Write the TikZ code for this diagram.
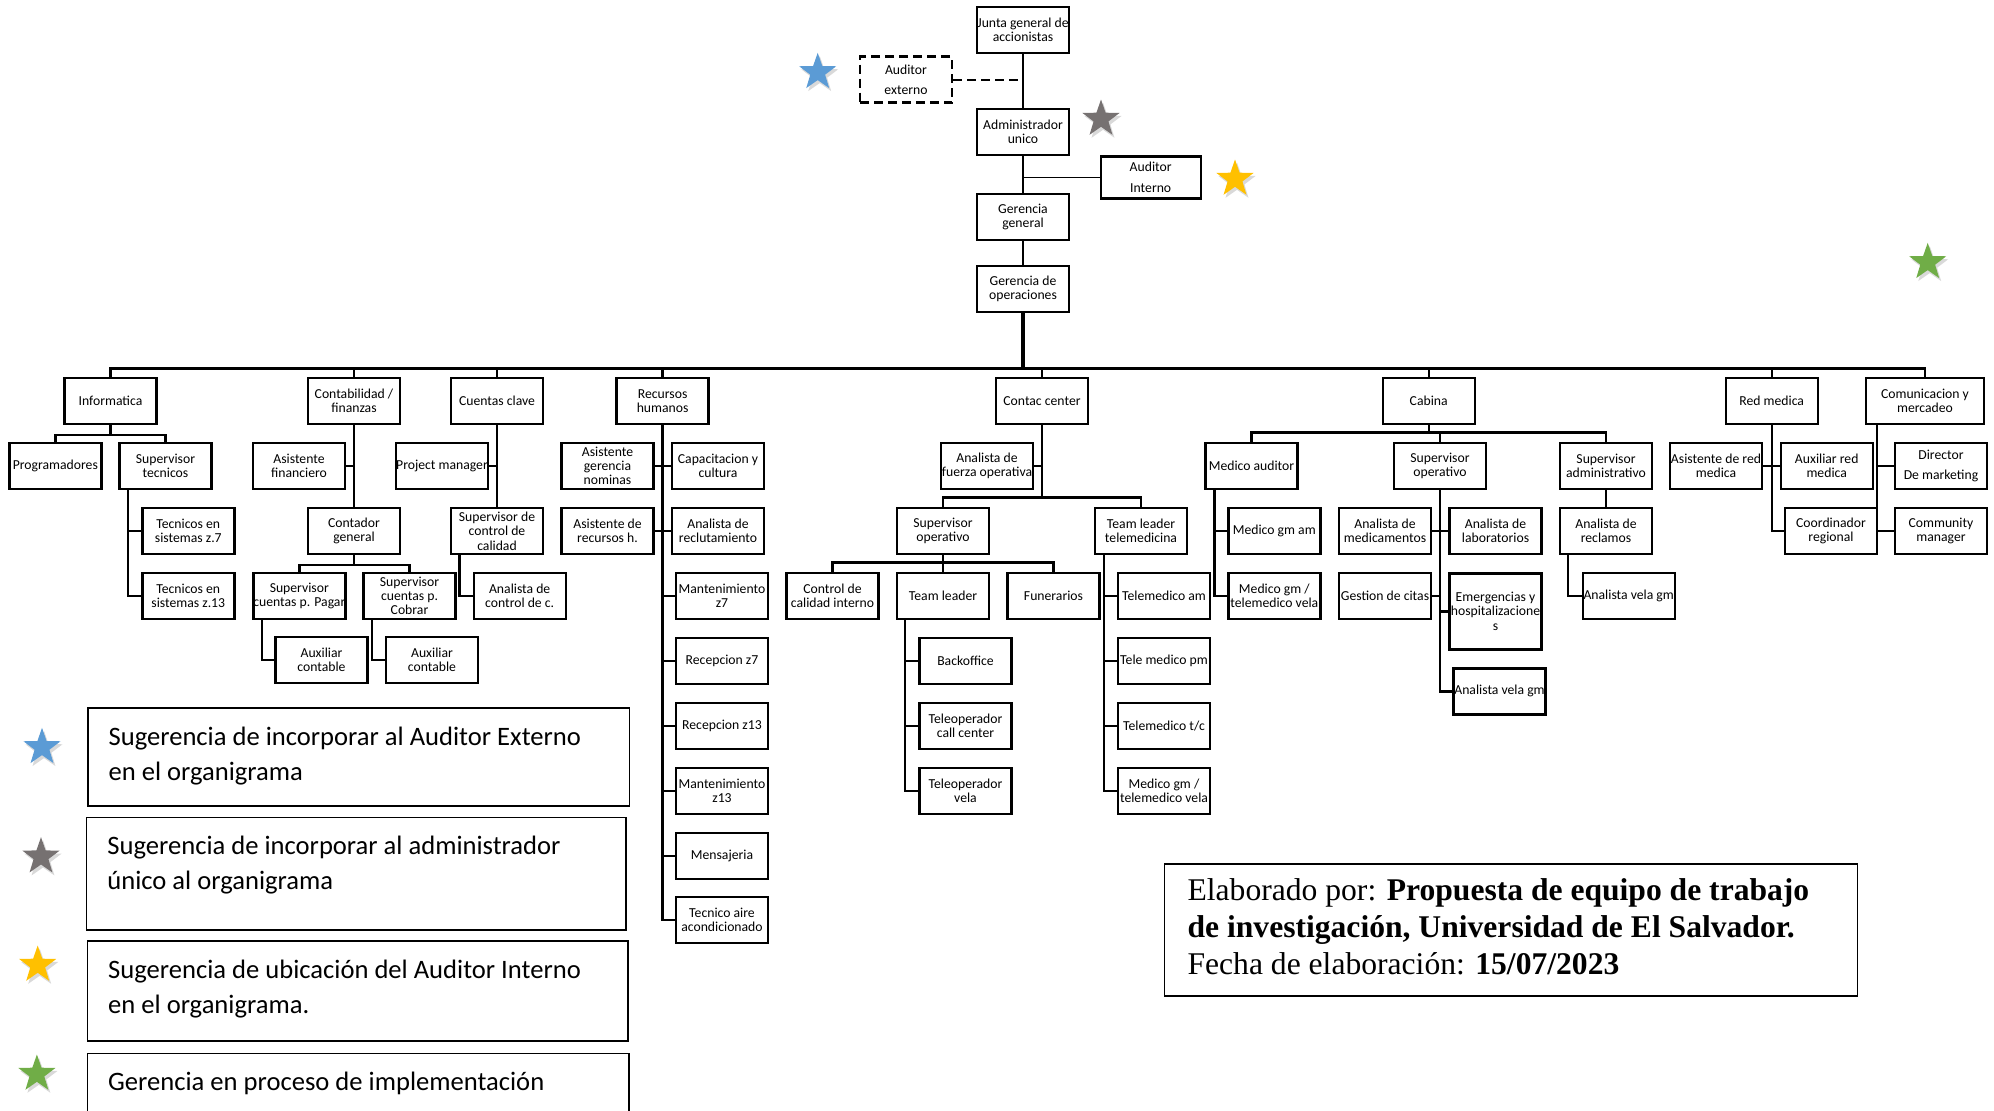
\documentclass[tikz,border=0pt]{standalone}
\usepackage{fontspec}
\setmainfont{Carlito}
\newfontfamily\serifa{Liberation Serif}
\usetikzlibrary{shapes.geometric,shadows}
\definecolor{azul}{RGB}{91,155,213}
\definecolor{gris}{RGB}{118,113,113}
\definecolor{amarillo}{RGB}{255,192,0}
\definecolor{verde}{RGB}{112,173,71}
\begin{document}
\begin{tikzpicture}[x=0.5pt,y=-0.5pt,
	cargo/.style={draw,line width=1.2pt,minimum width=46pt,minimum height=23pt,inner sep=0pt,align=center,font=\fontsize{6.85}{7.15}\selectfont},
	linea/.style={line width=1.2pt,line cap=rect},
	estrella/.style={star,star points=5,star point ratio=2.5,minimum size=19.5pt,inner sep=0pt,drop shadow={opacity=0.3,shadow xshift=1pt,shadow yshift=-1.5pt}},
	leyenda/.style={draw,line width=0.8pt,anchor=north west,inner xsep=10.4pt,inner ysep=9.4pt,font=\fontsize{13.3}{17.5}\selectfont}]
		\useasboundingbox (0,0) rectangle (1994,1110);
		\node[cargo] (junta) at (1023,30) {Junta general de\\accionistas};
		\node[cargo,dash pattern=on 4.5pt off 2.5pt] (audext) at (906,79.5) {Auditor\\[3pt]externo};
		\node[cargo] (admin) at (1023,132) {Administrador\\unico};
		\node[cargo,minimum width=50pt,minimum height=21pt] (audint) at (1150.7,177.5) {Auditor\\[3.5pt]Interno};
		\node[cargo] (gg) at (1023,217) {Gerencia\\general};
		\node[cargo] (gop) at (1023,288.7) {Gerencia de\\operaciones};
		\draw[line width=1pt] (junta) -- (admin) (admin) -- (gg) (gg) -- (gop);
		\draw[line width=1pt,dash pattern=on 4.5pt off 2.5pt] (audext.east) -- (audext.east -| junta.south);
		\draw[line width=0.7pt] (audint.west) -- (audint.west -| admin.south);
		\coordinate (bus) at (0,368.5);
		\draw[line width=1.8pt] (gop.south) -- (gop.south |- bus);
		\node[cargo] (info) at (110.5,401) {Informatica};
		\node[cargo] (conta) at (354,401) {Contabilidad /\\finanzas};
		\node[cargo] (ctas) at (497,401) {Cuentas clave};
		\node[cargo] (rrhh) at (662.6,401) {Recursos\\humanos};
		\node[cargo] (cc) at (1042,401) {Contac center};
		\node[cargo] (cabina) at (1428.7,401) {Cabina};
		\node[cargo] (red) at (1771.7,401) {Red medica};
		\node[cargo,minimum width=59pt] (comu) at (1925,401) {Comunicacion y\\mercadeo};
		\draw[linea,line width=1.4pt] (info.north |- bus) -- (comu.north |- bus);
		\foreach \n in {info,conta,ctas,rrhh,cc,cabina,red,comu}
			\draw[linea] (\n.north) -- (\n.north |- bus);
		\node[cargo] (prog) at (55.3,466) {Programadores};
		\node[cargo] (suptec) at (165.5,466) {Supervisor\\tecnicos};
		\node[cargo] (tec7) at (188.3,531) {Tecnicos en\\sistemas z.7};
		\node[cargo] (tec13) at (188.3,596) {Tecnicos en\\sistemas z.13};
		\draw[linea] (info.south) -- ++(0,9.5) coordinate (infbus);
		\draw[linea] (prog.north) |- (infbus) -| (suptec.north);
		\coordinate (infx) at ([xshift=4.8pt]suptec.south west);
		\draw[linea] (infx) |- (tec13.west) (tec7.west) -- (tec7.west -| infx);
		\node[cargo] (asfin) at (299,466) {Asistente\\financiero};
		\node[cargo] (contador) at (354,531) {Contador\\general};
		\node[cargo] (suppag) at (299.3,596) {Supervisor\\cuentas p. Pagar};
		\node[cargo] (supcob) at (409.5,596) {Supervisor\\cuentas p.\\Cobrar};
		\node[cargo] (aux1) at (321.5,660) {Auxiliar\\contable};
		\node[cargo] (aux2) at (432,660) {Auxiliar\\contable};
		\draw[linea] (conta.south) -- (contador.north) (asfin.east) -- (asfin.east -| conta.south);
		\draw[linea] (contador.south) -- ++(0,9.5) coordinate (contbus);
		\draw[linea] (suppag.north) |- (contbus) -| (supcob.north);
		\draw[linea] ([xshift=5pt]suppag.south west) |- (aux1.west);
		\draw[linea] ([xshift=4.7pt]supcob.south west) |- (aux2.west);
		\node[cargo] (pm) at (442,466) {Project manager};
		\node[cargo] (supcal) at (497,531) {Supervisor de\\control de\\calidad};
		\node[cargo] (anacal) at (519.7,596) {Analista de\\control de c.};
		\draw[linea] (ctas.south) -- (supcal.north) (pm.east) -- (pm.east -| ctas.south);
		\draw[linea] ([xshift=4.8pt]supcal.south west) |- (anacal.west);
		\node[cargo] (asnom) at (607.5,466) {Asistente\\gerencia\\nominas};
		\node[cargo] (capac) at (718,466) {Capacitacion y\\cultura};
		\node[cargo] (asrh) at (607.5,531) {Asistente de\\recursos h.};
		\node[cargo] (reclu) at (718,531) {Analista de\\reclutamiento};
		\node[cargo] (mant7) at (722,596) {Mantenimiento\\z7};
		\node[cargo] (rec7) at (722,661) {Recepcion z7};
		\node[cargo] (rec13) at (722,726) {Recepcion z13};
		\node[cargo] (mant13) at (722,791) {Mantenimiento\\z13};
		\node[cargo] (mensa) at (722,856) {Mensajeria};
		\node[cargo] (aire) at (722,920) {Tecnico aire\\acondicionado};
		\draw[linea] (rrhh.south) |- (aire.west);
		\draw[linea] (asnom.east) -- (capac.west) (asrh.east) -- (reclu.west);
		\foreach \n in {mant7,rec7,rec13,mant13,mensa}
			\draw[linea] (\n.west) -- (\n.west -| rrhh.south);
		\node[cargo] (afo) at (987,466) {Analista de\\fuerza operativa};
		\node[cargo] (supop) at (943,531) {Supervisor\\operativo};
		\node[cargo] (tltele) at (1141,531) {Team leader\\telemedicina};
		\node[cargo] (cci) at (832.5,596) {Control de\\calidad interno};
		\node[cargo] (tl) at (943,596) {Team leader};
		\node[cargo] (fun) at (1053.5,596) {Funerarios};
		\node[cargo] (back) at (965.5,661) {Backoffice};
		\node[cargo] (tcc) at (965.5,726) {Teleoperador\\call center};
		\node[cargo] (tvela) at (965.5,791) {Teleoperador\\vela};
		\node[cargo] (tam) at (1164,596) {Telemedico am};
		\node[cargo] (tpm) at (1164,661) {Tele medico pm};
		\node[cargo] (ttc) at (1164,726) {Telemedico t/c};
		\node[cargo] (tgm) at (1164,791) {Medico gm /\\telemedico vela};
		\draw[linea] (afo.east) -- (afo.east -| cc.south);
		\draw[linea] (supop.north) -- ++(0,-9.5) coordinate (ccbus) -| (tltele.north);
		\draw[linea] (cc.south) -- (cc.south |- ccbus);
		\draw[linea] (tl.north) -- ++(0,-9.5) coordinate (opbus);
		\draw[linea] (cci.north) |- (opbus) -| (fun.north) (supop.south) -- (opbus);
		\coordinate (tlx) at ([xshift=4.5pt]tl.south west);
		\draw[linea] (tlx) |- (tvela.west);
		\foreach \n in {back,tcc}
			\draw[linea] (\n.west) -- (\n.west -| tlx);
		\coordinate (ttx) at ([xshift=5pt]tltele.south west);
		\draw[linea] (ttx) |- (tgm.west);
		\foreach \n in {tam,tpm,ttc}
			\draw[linea] (\n.west) -- (\n.west -| ttx);
		\node[cargo] (medaud) at (1251.5,466) {Medico auditor};
		\node[cargo] (supopc) at (1440,466) {Supervisor\\operativo};
		\node[cargo] (supadm) at (1606,466) {Supervisor\\administrativo};
		\node[cargo] (mgam) at (1274.3,531) {Medico gm am};
		\node[cargo] (mgvela) at (1274.3,596) {Medico gm /\\telemedico vela};
		\node[cargo] (anamed) at (1385,531) {Analista de\\medicamentos};
		\node[cargo] (analab) at (1495.5,531) {Analista de\\laboratorios};
		\node[cargo] (citas) at (1385,596) {Gestion de citas};
		\node[cargo,minimum height=38pt] (emerg) at (1495.5,611.3) {Emergencias y\\hospitalizacione\\s};
		\node[cargo] (avg1) at (1499.5,691.3) {Analista vela gm};
		\node[cargo] (reclamos) at (1606,531) {Analista de\\reclamos};
		\node[cargo] (avg2) at (1628.7,596) {Analista vela gm};
		\draw[linea] (medaud.north) -- ++(0,-9.5) coordinate (cabbus) -| (supadm.north);
		\draw[linea] (cabina.south) -- (cabina.south |- cabbus) (supopc.north) -- (supopc.north |- cabbus);
		\coordinate (max) at ([xshift=5pt]medaud.south west);
		\draw[linea] (max) |- (mgvela.west) (mgam.west) -- (mgam.west -| max);
		\draw[linea] (supopc.south) |- (avg1.west);
		\draw[linea] (anamed.east) -- (analab.west) (citas.east) -- (citas.east -| supopc.south) (emerg.west) -- (emerg.west -| supopc.south);
		\draw[linea] (supadm.south) -- (reclamos.north);
		\draw[linea] ([xshift=4.7pt]reclamos.south west) |- (avg2.west);
		\node[cargo] (asred) at (1716,466) {Asistente de red\\medica};
		\node[cargo] (auxred) at (1826.7,466) {Auxiliar red\\medica};
		\node[cargo] (coord) at (1831,531) {Coordinador\\regional};
		\draw[linea] (red.south) |- (coord.west) (asred.east) -- (auxred.west);
		\node[cargo] (dirmk) at (1941,466) {Director\\[2.8pt]De marketing};
		\node[cargo] (commu) at (1941,531) {Community\\manager};
		\coordinate (comux) at ([xshift=6.15pt]comu.south west);
		\draw[linea] (comux) |- (commu.west) (dirmk.west) -- (dirmk.west -| comux);
		\node[estrella,fill=azul] (e1) at (817.7,72.3) {};
		\node[estrella,fill=gris] (e2) at (1101,119) {};
		\node[estrella,fill=amarillo] (e3) at (1235,179) {};
		\node[estrella,fill=verde] (e4) at (1927.7,262.3) {};
		\node[estrella,fill=azul] (l1) at (42,747.3) {};
		\node[estrella,fill=gris] (l2) at (41,856.7) {};
		\node[estrella,fill=amarillo] (l3) at (37.7,965) {};
		\node[estrella,fill=verde] (l4) at (36.9,1074) {};
		\node[leyenda] (ley1) at (87,707.3) {\parbox[c][30.2pt][t]{250pt}{\raggedright Sugerencia de incorporar al Auditor Externo\\en el organigrama}};
		\node[leyenda] (ley2) at (85.8,816.7) {\parbox[c][37.5pt][t]{249pt}{\raggedright Sugerencia de incorporar al administrador\\único al organigrama}};
		\node[leyenda] (ley3) at (86.6,940) {\parbox[c][31.2pt][t]{249.5pt}{\raggedright Sugerencia de ubicación del Auditor Interno\\en el organigrama.}};
		\node[leyenda] (ley4) at (86.6,1052.7) {\parbox[c][45pt][t]{250pt}{\raggedright Gerencia en proceso de implementación}};
		\node[draw,line width=0.8pt,anchor=north west,inner xsep=11.5pt,inner ysep=7.2pt] (elab) at (1163.8,863.3) {\parbox[c][51.4pt][t]{323.5pt}{\serifa\fontsize{15.8}{18.6}\selectfont\raggedright Elaborado por: \textbf{Propuesta de equipo de trabajo}\\\textbf{de investigación, Universidad de El Salvador.}\\Fecha de elaboración: \textbf{15/07/2023}}};
\end{tikzpicture}
\end{document}
